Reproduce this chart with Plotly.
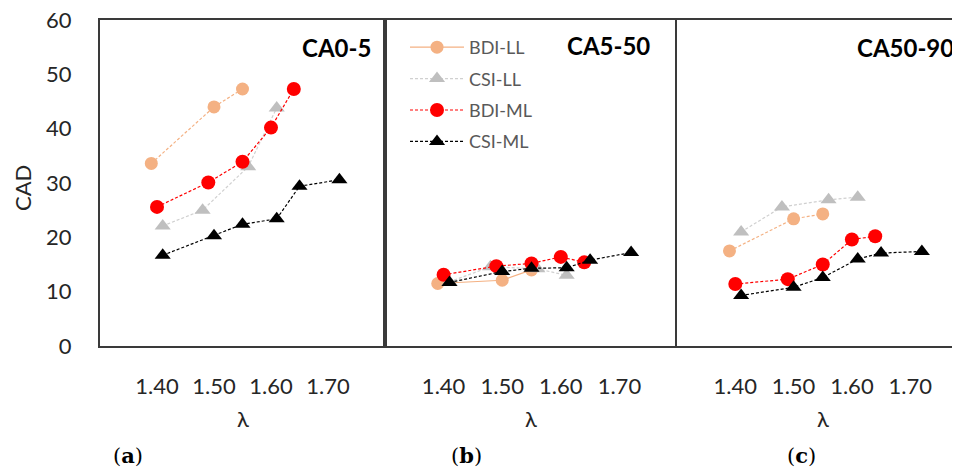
import plotly.graph_objects as go

# ---------------- data ----------------
series_names = ["BDI-LL", "CSI-LL", "BDI-ML", "CSI-ML"]
panel_titles = ["CA0-5", "CA5-50", "CA50-90"]
panel_letters = ["a", "b", "c"]
tick_vals = [1.40, 1.50, 1.60, 1.70]
tick_text = ["1.40", "1.50", "1.60", "1.70"]

lam_bdi_ll = [1.39, 1.50, 1.55]
lam_csi_ll = [1.41, 1.48, 1.56, 1.61]
lam_bdi_ml = [1.40, 1.49, 1.55, 1.60, 1.64]
lam_csi_ml = [1.41, 1.50, 1.55, 1.61, 1.65, 1.72]

# panel (a) CA0-5
a_bdi_ll = [33.6, 44.0, 47.3]
a_csi_ll = [22.1, 25.0, 33.0, 43.8]
a_bdi_ml = [25.6, 30.1, 33.9, 40.2, 47.3]
a_csi_ml = [16.7, 20.3, 22.4, 23.4, 29.4, 30.6]

# panel (b) CA5-50
b_bdi_ll = [11.5, 12.1, 14.0]
b_csi_ll = [11.8, 14.6, 14.2, 13.0]
b_bdi_ml = [13.1, 14.7, 15.2, 16.4, 15.4]
b_csi_ml = [11.7, 13.7, 14.3, 14.4, 15.8, 17.2]

# panel (c) CA50-90
c_bdi_ll = [17.5, 23.4, 24.3]
c_csi_ll = [21.0, 25.6, 26.9, 27.4]
c_bdi_ml = [11.4, 12.3, 15.0, 19.6, 20.2]
c_csi_ml = [9.3, 10.8, 12.6, 16.0, 17.1, 17.4]

lams = [lam_bdi_ll, lam_csi_ll, lam_bdi_ml, lam_csi_ml]
panels = [
    [a_bdi_ll, a_csi_ll, a_bdi_ml, a_csi_ml],
    [b_bdi_ll, b_csi_ll, b_bdi_ml, b_csi_ml],
    [c_bdi_ll, c_csi_ll, c_bdi_ml, c_csi_ml],
]

# ---------------- styles ----------------
marker_colors = ["#F4B183", "#BFBFBF", "#FF0000", "#000000"]
line_colors = ["#F4B183", "#D0D0D0", "#FF0000", "#000000"]
symbols = ["circle", "triangle-up", "circle", "triangle-up"]
msizes = [13, 14, 14, 14]
FONT = "Lato"
OFF = 8  # page body margin offset
W, H = 960 - OFF, 470 - OFF
L, R, T = 100 - OFF, 0, 20 - OFF
PLOT_BOTTOM = 346 - OFF
B = H - PLOT_BOTTOM
PW = W - L - R
PH = H - T - B

def px2x(px):
    return (px - OFF - L) / PW

def py2y(py):
    return (PLOT_BOTTOM - (py - OFF)) / PH

domains = [[0, px2x(385)], [px2x(385), px2x(678)], [px2x(677), 1.0]]
xranges = [[1.30, 1.80], [1.30, 1.80], [1.30, 1.30 + (960 - 677) / 583.0]]

fig = go.Figure()

for p in range(3):
    xa = "x" if p == 0 else "x%d" % (p + 1)
    ya = "y" if p == 0 else "y%d" % (p + 1)
    for s in range(4):
        dash = "3px,2px"
        if p == 1 and s == 0:
            dash = "solid"
        fig.add_trace(go.Scatter(
            x=lams[s], y=panels[p][s], xaxis=xa, yaxis=ya,
            mode="lines+markers", name=series_names[s],
            legendgroup=series_names[s], showlegend=(p == 1),
            line=dict(color=line_colors[s], width=1.2, dash=dash),
            marker=dict(color=marker_colors[s], symbol=symbols[s], size=msizes[s],
                        line=dict(width=0)),
        ))

axis_line = dict(showline=True, linecolor="#3a3a3a", linewidth=2, showgrid=False,
                 zeroline=False, ticks="", ticklabeloverflow="allow")
for p in range(3):
    xkey = "xaxis" if p == 0 else "xaxis%d" % (p + 1)
    ykey = "yaxis" if p == 0 else "yaxis%d" % (p + 1)
    fig.layout[xkey] = dict(
        domain=domains[p], range=xranges[p], anchor="y" if p == 0 else "y%d" % (p + 1),
        tickvals=tick_vals, ticktext=tick_text, mirror=True,
        tickfont=dict(family=FONT, size=22, color="#262626"),
        ticklabelstandoff=20, **axis_line)
    yd = dict(domain=[0, 1], range=[0, 60], dtick=10,
              anchor="x" if p == 0 else "x%d" % (p + 1),
              mirror=(p < 2), showticklabels=(p == 0),
              tickfont=dict(family=FONT, size=22, color="#262626"),
              ticklabelstandoff=22, **axis_line)
    if p > 0:
        yd["matches"] = "y"
    fig.layout[ykey] = yd

annotations = []
# panel titles
title_right = [373, 652, 956]
title_y = [48, 45, 48]
for p in range(3):
    annotations.append(dict(text="<b>%s</b>" % panel_titles[p], xref="paper", yref="paper",
                            x=px2x(title_right[p]), y=py2y(title_y[p]), xanchor="right",
                            yanchor="middle", showarrow=False,
                            font=dict(family=FONT, size=24, color="#000")))
# lambda axis titles and panel letters
lam_x = [243, 531, 823]
letter_x = [128, 466, 801]
for p in range(3):
    annotations.append(dict(text="λ", xref="paper", yref="paper", x=px2x(lam_x[p]),
                            y=py2y(418), xanchor="center", yanchor="middle", showarrow=False,
                            font=dict(family=FONT, size=22, color="#262626")))
    annotations.append(dict(text="(<b>%s</b>)" % panel_letters[p], xref="paper", yref="paper",
                            x=px2x(letter_x[p]), y=py2y(455), xanchor="center",
                            yanchor="middle", showarrow=False,
                            font=dict(family="DejaVu Serif", size=21, color="#000")))
annotations.append(dict(text="CAD", xref="paper", yref="paper", x=px2x(22), y=py2y(188),
                        xanchor="center", yanchor="middle", textangle=-90, showarrow=False,
                        font=dict(family=FONT, size=22, color="#262626")))

fig.update_layout(
    width=W, height=H, margin=dict(l=L, r=R, t=T, b=B, autoexpand=False),
    paper_bgcolor="white", plot_bgcolor="white",
    annotations=annotations,
    legend=dict(x=px2x(405), y=py2y(29), xanchor="left", yanchor="top",
                font=dict(family=FONT, size=18, color="#595959"),
                bgcolor="rgba(0,0,0,0)", itemwidth=54, tracegroupgap=5),
)

fig.write_html("out.html")
